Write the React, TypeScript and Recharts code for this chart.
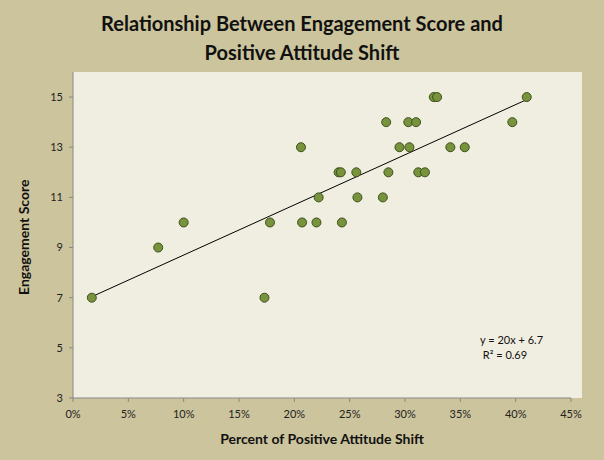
import { ScatterChart, Scatter, XAxis, YAxis, ReferenceLine } from "recharts";

const shiftPct = [1.7, 7.7, 10.0, 17.3, 17.8, 20.6, 20.7, 22.0, 22.2, 24.0, 24.2, 24.3, 25.6, 25.7, 28.0, 28.3, 28.5, 29.5, 30.3, 30.4, 31.0, 31.2, 31.8, 32.6, 32.9, 34.1, 35.4, 39.7, 41.0];
const engagement = [7, 9, 10, 7, 10, 13, 10, 10, 11, 12, 12, 10, 12, 11, 11, 14, 12, 13, 14, 13, 14, 12, 12, 15, 15, 13, 13, 14, 15];
const xTicks = [0, 5, 10, 15, 20, 25, 30, 35, 40, 45];
const yTicks = [3, 5, 7, 9, 11, 13, 15];
const trendStart = { x: 1.7, y: 7.04 };
const trendEnd = { x: 41.0, y: 14.9 };

const points = shiftPct.map((x, i) => ({ x, y: engagement[i] }));
const font = "Lato, 'Open Sans', sans-serif";

export default function App() {
  return (
    <div style={{ position: "absolute", left: 0, top: 0, width: 604, height: 460, background: "#CCC49C", fontFamily: font }}>
      <div style={{ position: "absolute", left: 0, width: 604, top: 9, textAlign: "center", fontWeight: 700, fontSize: 20, lineHeight: "29px", color: "#111" }}>
        Relationship Between Engagement Score and<br />Positive Attitude Shift
      </div>
      <div style={{ position: "absolute", left: 73, top: 72, width: 509, height: 326, background: "#F0EEE0" }} />
      <div style={{ position: "absolute", left: 0, top: 0 }}>
        <ScatterChart width={604} height={460} margin={{ top: 72, right: 33, bottom: 0, left: 0 }}>
          <XAxis
            type="number"
            dataKey="x"
            domain={[0, 45]}
            ticks={xTicks}
            tickFormatter={(v) => `${v}%`}
            tick={{ fontSize: 11, fill: "#222", fontFamily: font, dy: 6 }}
            stroke="#888"
            tickSize={4}
            height={62}
            label={{ value: "Percent of Positive Attitude Shift", position: "insideBottom", offset: 16, fontSize: 14, fontWeight: 700, fill: "#111", fontFamily: font }}
          />
          <YAxis
            type="number"
            dataKey="y"
            domain={[3, 16]}
            ticks={yTicks}
            tick={{ fontSize: 11, fill: "#222", fontFamily: font, dx: -4 }}
            stroke="#888"
            tickSize={4}
            width={73}
            label={{ value: "Engagement Score", angle: -90, position: "insideLeft", offset: 24, dy: 60, fontSize: 14, fontWeight: 700, fill: "#111", fontFamily: font }}
          />
          <ReferenceLine segment={[trendStart, trendEnd]} stroke="#000" strokeWidth={1} />
          <Scatter data={points} fill="#77933C" stroke="#3F4F1E" strokeWidth={1} isAnimationActive={false} shape={(p: any) => <circle cx={p.cx} cy={p.cy} r={4.5} fill="#77933C" stroke="#3F4F1E" />} />
        </ScatterChart>
      </div>
      <div style={{ position: "absolute", left: 480, top: 332, fontSize: 11, lineHeight: "15px", color: "#111" }}>
        y = 20x + 6.7<br />&nbsp;R² = 0.69
      </div>
    </div>
  );
}
